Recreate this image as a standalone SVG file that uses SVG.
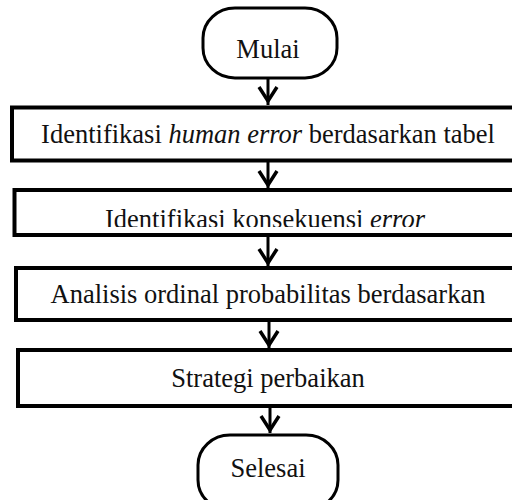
<svg xmlns="http://www.w3.org/2000/svg" width="512" height="500" viewBox="0 0 512 500">
<style>
.shape{fill:#fff;stroke:#000;stroke-width:4}
.term{fill:#fff;stroke:#000;stroke-width:3}
.lbl{font-family:'Liberation Serif','Times New Roman',serif;font-size:26.5px;fill:#111;text-anchor:middle}
.conn{stroke:#000;stroke-width:3;fill:none}
.head{stroke:#000;stroke-width:3.5;fill:none;stroke-linejoin:miter}
</style>
<defs>
<clipPath id="cut2"><rect x="0" y="180" width="512" height="47"/></clipPath>
</defs>
<rect width="512" height="500" fill="#fff"/>
<g id="connectors">
<path class="conn" d="M268 78V105"/>
<path class="head" d="M259 87L268 101L277 87"/>
<path class="conn" d="M268 162V188"/>
<path class="head" d="M259 171L268 185L277 171"/>
<path class="conn" d="M268 237V266"/>
<path class="head" d="M259 249L268 263L277 249"/>
<path class="conn" d="M269 322V348"/>
<path class="head" d="M260 331L269 345L278 331"/>
<path class="conn" d="M270 406V433"/>
<path class="head" d="M261 416L270 430L279 416"/>
</g>
<g id="start">
<rect class="term" x="203" y="8" width="134" height="70" rx="32" ry="30"/>
<text class="lbl" x="268" y="58">Mulai</text>
</g>
<g id="step1">
<rect class="shape" x="12" y="107.5" width="520" height="53"/>
<text class="lbl" x="268" y="143">Identifikasi <tspan font-style="italic">human error</tspan> berdasarkan tabel</text>
</g>
<g id="step2">
<rect class="shape" x="14.5" y="190" width="520" height="45"/>
<text class="lbl" x="265" y="228" clip-path="url(#cut2)">Identifikasi konsekuensi <tspan font-style="italic">error</tspan></text>
</g>
<g id="step3">
<rect class="shape" x="16" y="268" width="520" height="52"/>
<text class="lbl" x="268" y="303">Analisis ordinal probabilitas berdasarkan</text>
</g>
<g id="step4">
<rect class="shape" x="18" y="350" width="520" height="56"/>
<text class="lbl" x="268" y="387">Strategi perbaikan</text>
</g>
<g id="end">
<rect class="term" x="198" y="435" width="140" height="75" rx="32" ry="30"/>
<text class="lbl" x="268" y="477">Selesai</text>
</g>
</svg>
